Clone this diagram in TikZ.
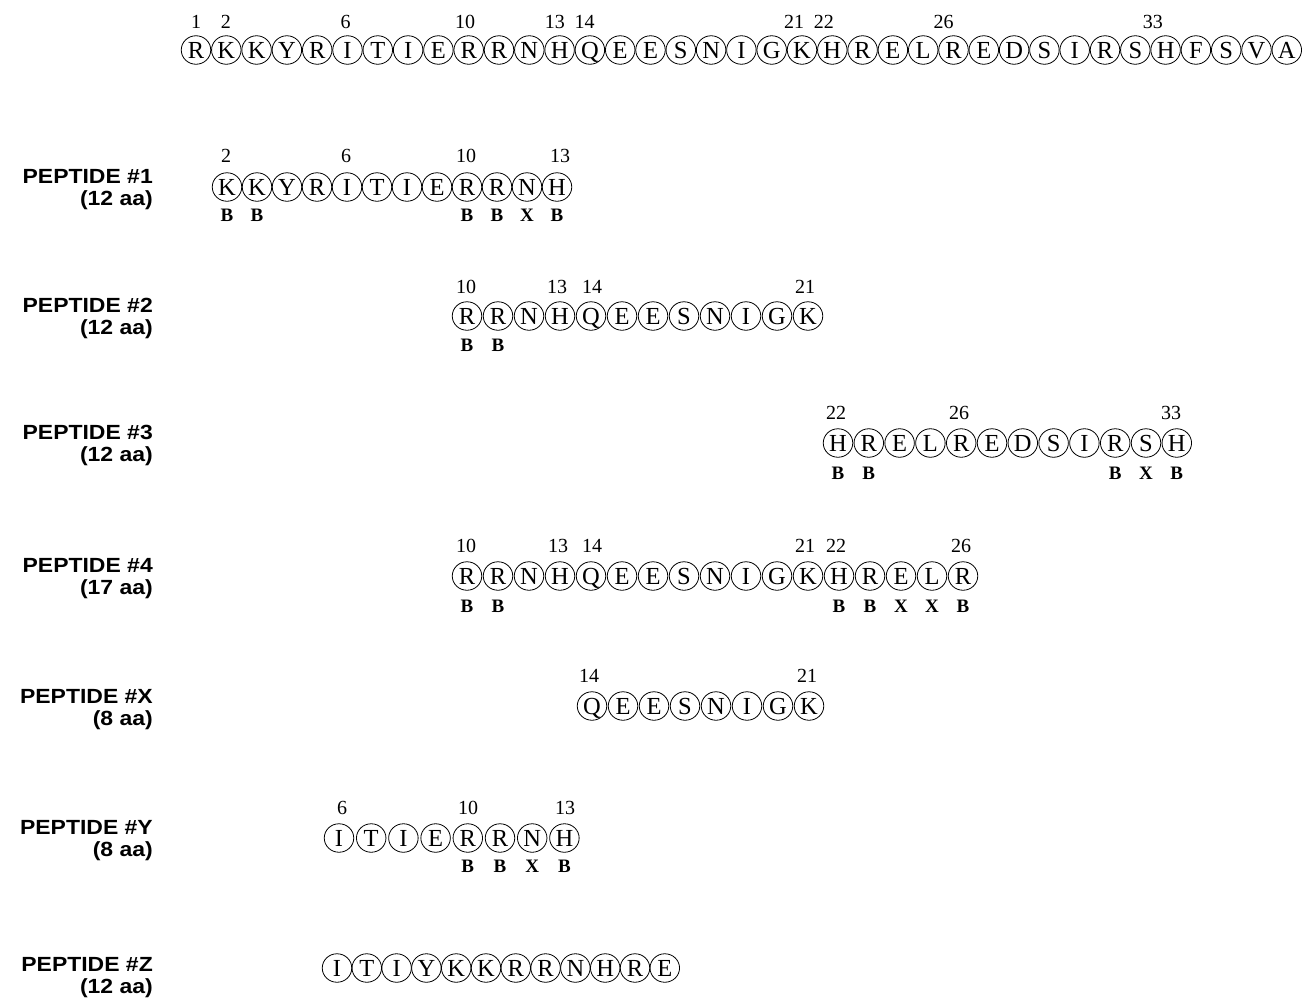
\documentclass[tikz,border=0pt]{standalone}
\usepackage{fontspec}
\setmainfont{Liberation Serif}
\newfontfamily\labsans[FakeStretch=1.12]{Liberation Sans}
\usetikzlibrary{shapes.geometric}
\tikzset{
  res/.style={draw, line width=0.8pt, ellipse, minimum width=29.5, minimum height=28.5, inner sep=0pt,
    text height=16.3pt, text depth=0pt, font=\fontsize{24.5}{24.5}\selectfont},
  num/.style={inner sep=0pt, font=\fontsize{20}{20}\selectfont},
  bxmark/.style={inner sep=0pt, font=\bfseries\fontsize{19}{19}\selectfont},
  pname/.style={inner sep=0pt, anchor=east, text height=14pt, text depth=3pt,
    font=\labsans\bfseries\fontsize{20.5}{20.5}\selectfont},
}
\begin{document}
\begin{tikzpicture}[x=1pt,y=-1pt]
\useasboundingbox (0,0) rectangle (1309,1005);

% ---------- full sequence ----------
\foreach \r [count=\i] in {R,K,K,Y,R,I,T,I,E,R,R,N,H,Q,E,E,S,N,I,G,K,H,R,E,L,R,E,D,S,I,R,S,H,F,S,V,A}
  \node[res] (t\i) at ({196+30.3*(\i-1)},50) {\r};
\foreach \k in {1,2,6,10,13,14,21,22,26,33}
  \node[num] (tn\k) at ({196+29.9*(\k-1)},22) {\k};

% ---------- peptide #1 ----------
\node[pname] (n1a) at (153,178) {PEPTIDE \#1};
\node[pname] (n1b) at (153,200) {(12 aa)};
\foreach \r [count=\i from 0] in {K,K,Y,R,I,T,I,E,R,R,N,H}
  \node[res] (a\i) at ({227+30*\i},187) {\r};
\foreach \k/\x in {2/226,6/346,10/466,13/560}
  \node[num] (an\k) at (\x,156) {\k};
\foreach \i/\m in {0/B,1/B,8/B,9/B,10/X,11/B}
  \node[bxmark] (am\i) at ({227+30*\i},215) {\m};

% ---------- peptide #2 ----------
\node[pname] (n2a) at (153,307) {PEPTIDE \#2};
\node[pname] (n2b) at (153,329) {(12 aa)};
\foreach \r [count=\i from 0] in {R,R,N,H,Q,E,E,S,N,I,G,K}
  \node[res] (b\i) at ({467+31*\i},316) {\r};
\foreach \k/\x in {10/466,13/557,14/592,21/805}
  \node[num] (bn\k) at (\x,287) {\k};
\foreach \i/\m in {0/B,1/B}
  \node[bxmark] (bm\i) at ({467+31*\i},345) {\m};

% ---------- peptide #3 ----------
\node[pname] (n3a) at (153,434) {PEPTIDE \#3};
\node[pname] (n3b) at (153,456) {(12 aa)};
\foreach \r [count=\i from 0] in {H,R,E,L,R,E,D,S,I,R,S,H}
  \node[res] (c\i) at ({838+30.8*\i},443) {\r};
\foreach \k/\x in {22/836,26/959,33/1171}
  \node[num] (cn\k) at (\x,413) {\k};
\foreach \i/\m in {0/B,1/B,9/B,10/X,11/B}
  \node[bxmark] (cm\i) at ({838+30.8*\i},473) {\m};

% ---------- peptide #4 ----------
\node[pname] (n4a) at (153,567) {PEPTIDE \#4};
\node[pname] (n4b) at (153,589) {(17 aa)};
\foreach \r [count=\i from 0] in {R,R,N,H,Q,E,E,S,N,I,G,K,H,R,E,L,R}
  \node[res] (d\i) at ({467+31*\i},576) {\r};
\foreach \k/\x in {10/466,13/558,14/592,21/805,22/836,26/961}
  \node[num] (dn\k) at (\x,546) {\k};
\foreach \i/\m in {0/B,1/B,12/B,13/B,14/X,15/X,16/B}
  \node[bxmark] (dm\i) at ({467+31*\i},606) {\m};

% ---------- peptide #X ----------
\node[pname] (nxa) at (153,698) {PEPTIDE \#X};
\node[pname] (nxb) at (153,720) {(8 aa)};
\foreach \r [count=\i from 0] in {Q,E,E,S,N,I,G,K}
  \node[res] (e\i) at ({592+31*\i},706) {\r};
\foreach \k/\x in {14/589,21/807}
  \node[num] (en\k) at (\x,676) {\k};

% ---------- peptide #Y ----------
\node[pname] (nya) at (153,829) {PEPTIDE \#Y};
\node[pname] (nyb) at (153,851) {(8 aa)};
\foreach \r [count=\i from 0] in {I,T,I,E,R,R,N,H}
  \node[res] (f\i) at ({339+32.2*\i},838) {\r};
\foreach \k/\x in {6/342,10/468,13/565}
  \node[num] (fn\k) at (\x,808) {\k};
\foreach \i/\m in {4/B,5/B,6/X,7/B}
  \node[bxmark] (fm\i) at ({339+32.2*\i},866) {\m};

% ---------- peptide #Z ----------
\node[pname] (nza) at (153,966) {PEPTIDE \#Z};
\node[pname] (nzb) at (153,988) {(12 aa)};
\foreach \r [count=\i from 0] in {I,T,I,Y,K,K,R,R,N,H,R,E}
  \node[res] (g\i) at ({337+29.8*\i},968) {\r};
\end{tikzpicture}
\end{document}
